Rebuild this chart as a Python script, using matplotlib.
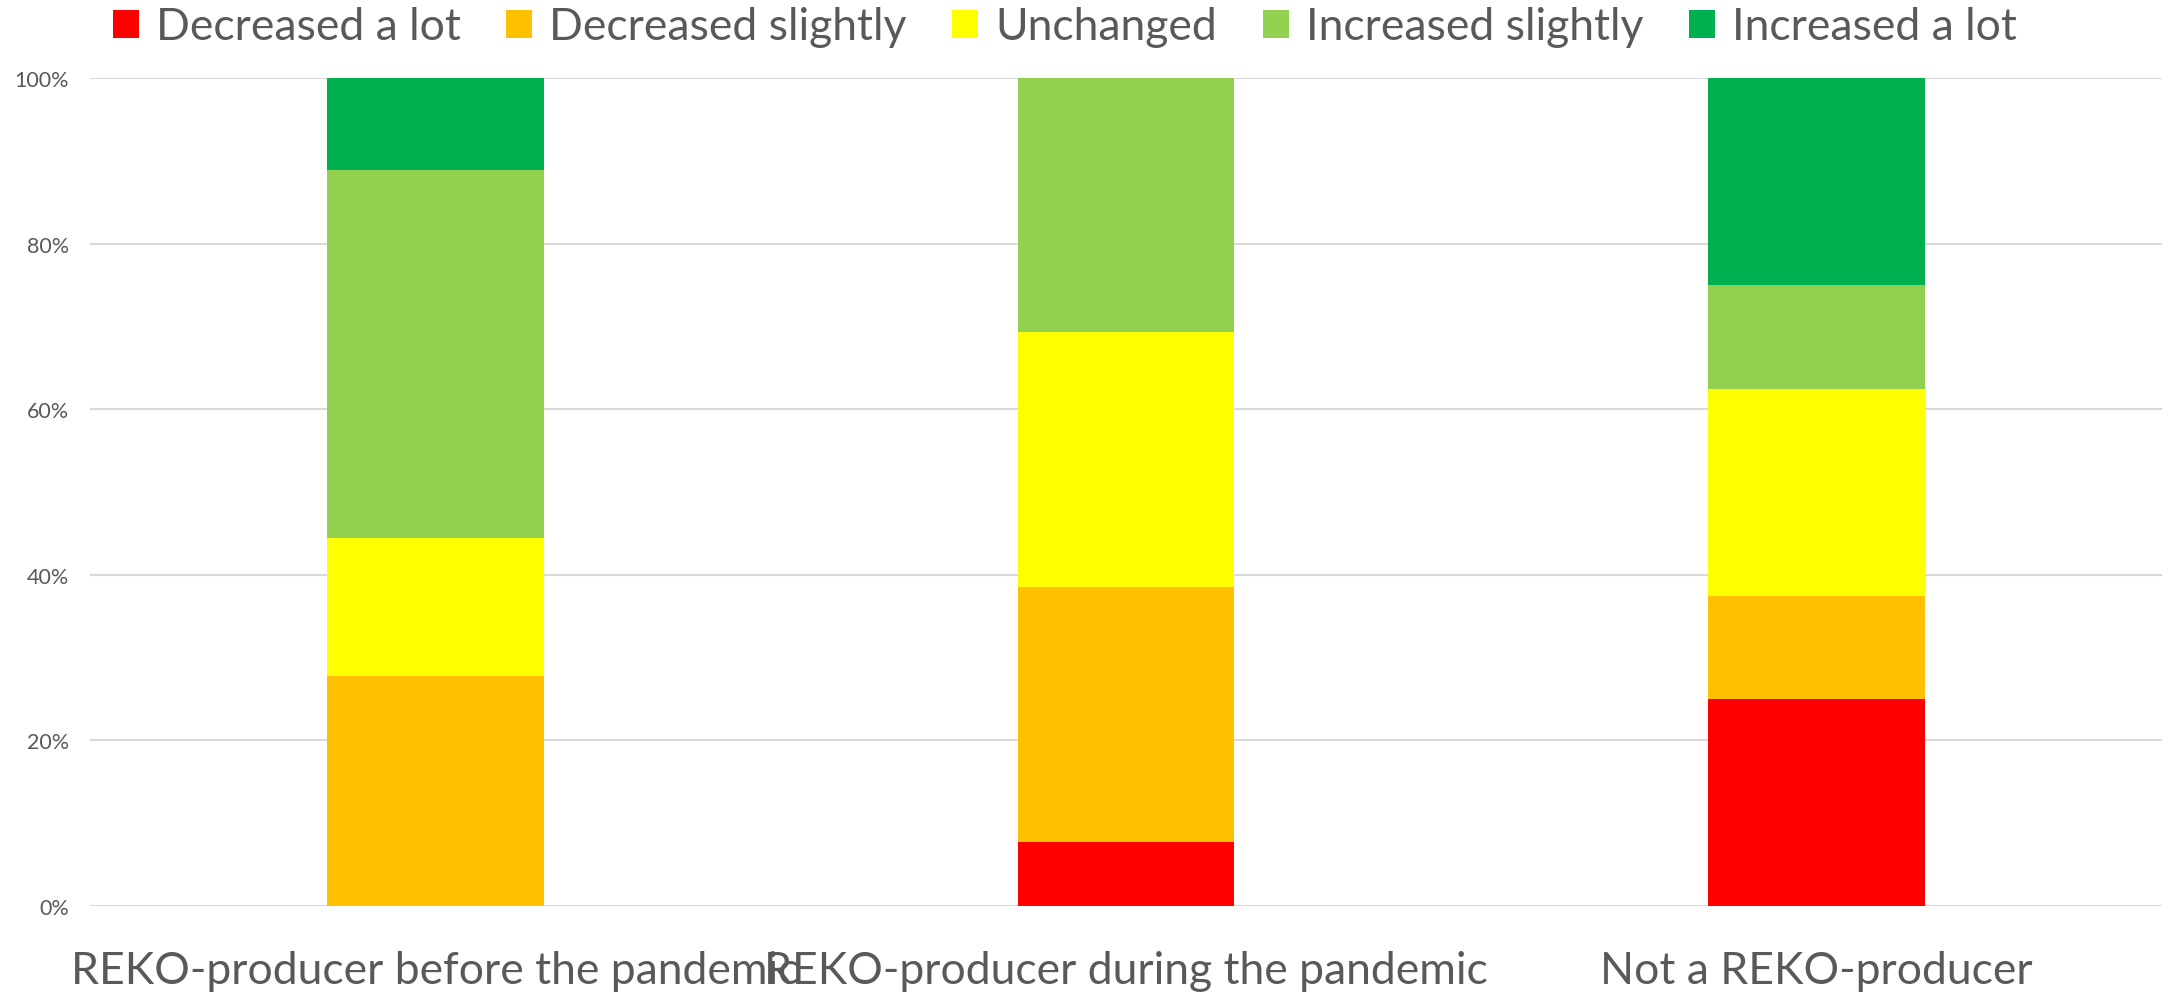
import numpy as np
import matplotlib.pyplot as plt

categories = ['REKO-producer before the pandemic', 'REKO-producer during the pandemic', 'Not a REKO-producer']
series = ['Decreased a lot', 'Decreased slightly', 'Unchanged', 'Increased slightly', 'Increased a lot']
colors = ['#FF0000', '#FFC000', '#FFFF00', '#92D050', '#00B050']

# shares in percent, one list per answer
decreased_lot = [0.0, 7.7, 25.0]
decreased_slight = [27.8, 30.8, 12.5]
unchanged = [16.7, 30.8, 25.0]
increased_slight = [44.4, 30.7, 12.5]
increased_lot = [11.1, 0.0, 25.0]

values = [decreased_lot, decreased_slight, unchanged, increased_slight, increased_lot]

plt.rcParams['font.family'] = ['Lato', 'DejaVu Sans']
txt = '#595959'

fig = plt.figure(figsize=(21.69, 9.95), dpi=100)
ax = fig.add_axes([0.0415, 0.0884, 0.9553, 0.8322])

x = np.arange(len(categories))
bottom = np.zeros(len(categories))
for name, vals, c in zip(series, values, colors):
    ax.bar(x, vals, 0.314, bottom=bottom, color=c, label=name, zorder=3)
    bottom += np.array(vals)

ax.set_xlim(-0.5, 2.5)
ax.set_ylim(0, 100)
ax.set_yticks(np.arange(0, 101, 20))
ax.set_yticklabels([f'{v}%' for v in range(0, 101, 20)], fontsize=15.5, color=txt)
ax.yaxis.grid(True, color='#d9d9d9', linewidth=1.5, zorder=0)
ax.set_xticks(x)
ax.set_xticklabels(categories, fontsize=32, color=txt)
ax.tick_params(axis='both', length=0)
ax.tick_params(axis='x', pad=32)
ax.tick_params(axis='y', pad=15)
for s in ax.spines.values():
    s.set_visible(False)

fig.legend(loc='center left', bbox_to_anchor=(0.052, 0.972), ncol=5, frameon=False,
           borderpad=0, borderaxespad=0,
           fontsize=32, labelcolor=txt, handlelength=0.585, handleheight=0.585,
           handletextpad=0.38, columnspacing=1.03)

fig.savefig('out.png', dpi=100)
